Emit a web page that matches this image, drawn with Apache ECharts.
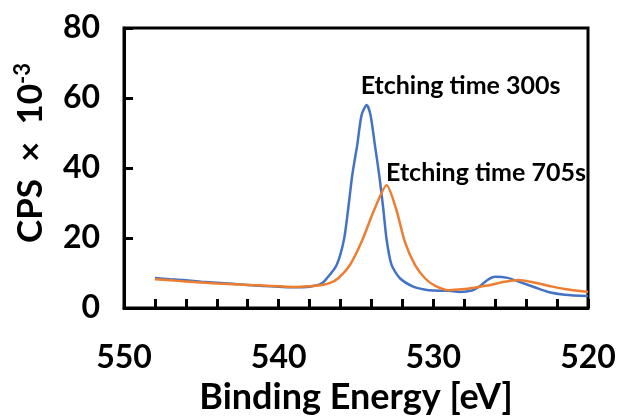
<!DOCTYPE html>
<html>
<head>
<meta charset="utf-8">
<script src="https://cdn.jsdelivr.net/npm/echarts@6/dist/echarts.min.js"></script>
<style>
html, body { margin: 0; padding: 0; background: #fff; }
#chart { width: 627px; height: 417px; }
</style>
</head>
<body>
<div id="chart"></div>
<script>
// binding energy (eV) and counts (x10^-3)
var energy300 = [548, 547, 546, 545, 544, 543, 542, 541, 540, 539, 538, 537.3, 536.9, 536.25, 535.78, 535.5, 535.24, 534.92, 534.64, 534.31, 534.06, 533.78, 533.5, 533.24, 533.02, 532.7, 532.16, 531.3, 530.5, 530, 529, 528.3, 527.5, 527, 526.5, 526, 525.2, 524.4, 523.5, 522.5, 521.5, 520];
var cps300 = [8.6, 8.2, 7.9, 7.5, 7.2, 6.9, 6.6, 6.3, 6.1, 5.9, 6.1, 6.8, 8.4, 12.3, 19.5, 28.5, 38, 46.6, 55.1, 58, 55.1, 46.6, 38, 28.5, 19.5, 12.3, 8.5, 6.1, 5.2, 5.0, 4.9, 4.6, 5.0, 6.2, 8.0, 8.9, 8.6, 7.4, 6.0, 4.5, 3.8, 3.4];

var energy705 = [548, 547, 546, 545, 544, 543, 542, 541, 540, 539, 538, 537.3, 536.7, 536.15, 535.39, 534.64, 533.78, 533.02, 532.42, 531.84, 531.19, 530.54, 529.9, 529, 528, 527.5, 526.5, 525.5, 524.5, 523.5, 522.5, 521.5, 520];
var cps705 = [8.2, 7.9, 7.6, 7.3, 7.0, 6.8, 6.6, 6.4, 6.2, 6.0, 6.2, 6.5, 7.1, 8.5, 12.3, 18.9, 28.5, 35.1, 28.5, 18.9, 12.3, 8.5, 6.4, 5.1, 5.4, 5.7, 6.4, 7.4, 8.0, 7.3, 6.3, 5.4, 4.6];

var seriesNames = ['Etching time 300s', 'Etching time 705s'];
var labelPos = [[534.7, 63.4], [533.06, 38.6]];

function pairs(xs, ys) {
    return xs.map(function (x, i) { return [x, ys[i]]; });
}

var font = 'Lato, "Open Sans", sans-serif';

var option = {
    animation: false,
    grid: {
        left: 124,
        right: 39,
        top: 28,
        bottom: 109,
        outerBoundsMode: 'none',
        containLabel: false,
        show: true,
        borderColor: '#000',
        borderWidth: 3
    },
    xAxis: {
        type: 'value',
        min: 520,
        max: 550,
        interval: 2,
        inverse: true,
        name: 'Binding Energy [eV]',
        nameLocation: 'middle',
        nameGap: 71,
        nameTextStyle: { color: '#000', fontSize: 36, fontWeight: 'bold', fontFamily: font },
        splitLine: { show: false },
        axisLine: { lineStyle: { color: '#000', width: 3 } },
        axisTick: { inside: true, length: 9, lineStyle: { color: '#000', width: 3 } },
        axisLabel: {
            margin: 34,
            color: '#000',
            fontSize: 32,
            fontWeight: 'bold',
            fontFamily: font,
            formatter: function (v) { return v % 10 === 0 ? v : ''; }
        }
    },
    yAxis: {
        type: 'value',
        min: 0,
        max: 80,
        interval: 20,
        name: 'CPS  ×  10{sup|-3}',
        nameLocation: 'middle',
        nameRotate: 90,
        nameGap: 74,
        nameTextStyle: {
            color: '#000', fontSize: 35, fontWeight: 'bold', fontFamily: font,
            padding: [0, 0, 0, 30],
            rich: {
                sup: { fontSize: 22, fontWeight: 'bold', fontFamily: font, color: '#000', padding: [0, 0, 16, 0] }
            }
        },
        splitLine: { show: false },
        axisLine: { lineStyle: { color: '#000', width: 3 } },
        axisTick: { inside: true, length: 9, lineStyle: { color: '#000', width: 3 } },
        axisLabel: {
            margin: 24,
            color: '#000',
            fontSize: 32,
            fontWeight: 'bold',
            fontFamily: font
        }
    },
    series: [
        {
            name: seriesNames[0],
            type: 'line',
            data: pairs(energy300, cps300),
            smooth: 0.25,
            showSymbol: false,
            lineStyle: { color: '#4472C4', width: 2.5 },
            markPoint: {
                symbol: 'circle', symbolSize: 0,
                label: { show: true, position: 'right', distance: 0, formatter: seriesNames[0], color: '#000', fontSize: 25, fontWeight: 'bold', fontFamily: font },
                data: [{ coord: labelPos[0] }]
            }
        },
        {
            name: seriesNames[1],
            type: 'line',
            data: pairs(energy705, cps705),
            smooth: 0.25,
            showSymbol: false,
            lineStyle: { color: '#ED7D31', width: 2.5 },
            markPoint: {
                symbol: 'circle', symbolSize: 0,
                label: { show: true, position: 'right', distance: 0, formatter: seriesNames[1], color: '#000', fontSize: 25, fontWeight: 'bold', fontFamily: font },
                data: [{ coord: labelPos[1] }]
            }
        }
    ]
};

var chart = echarts.init(document.getElementById('chart'));
chart.setOption(option);
</script>
</body>
</html>
